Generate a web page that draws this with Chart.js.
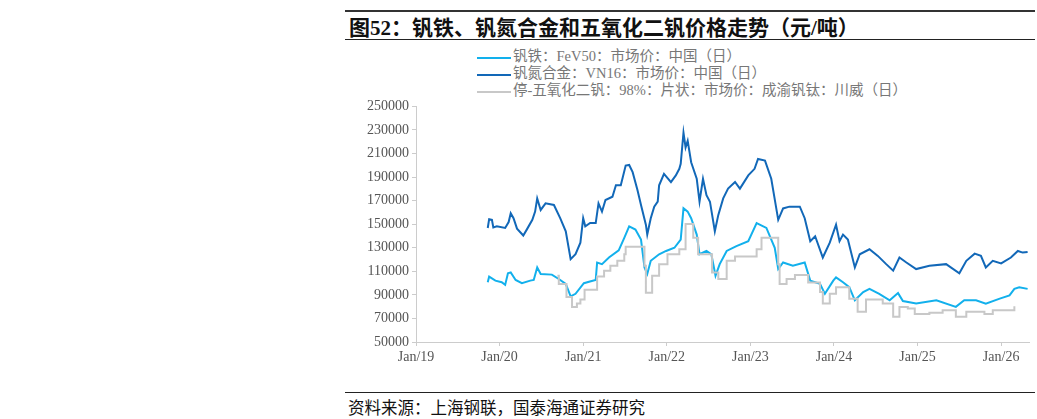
<!DOCTYPE html>
<html><head><meta charset="utf-8">
<script src="https://cdn.jsdelivr.net/npm/chart.js@4"></script>
<style>
body{margin:0;width:1037px;height:419px;position:relative;background:#fff;font-family:"Liberation Serif","Noto Sans CJK SC",serif;}
.topline{position:absolute;left:345px;top:10px;width:690px;height:2px;background:#333;}
.title{position:absolute;left:349px;top:11px;font-size:21px;font-weight:bold;color:#111;font-family:"Liberation Serif","Noto Sans CJK SC",serif;}
.uline{position:absolute;left:345px;top:39px;width:690px;height:1px;background:#222;}
.legend{position:absolute;left:477px;top:48px;font-size:14.5px;color:#777;line-height:17px;}
.legend span.k{display:inline-block;width:34px;height:2px;vertical-align:middle;margin-right:2px;}
.bline{position:absolute;left:345px;top:392px;width:690px;height:1px;background:#222;}
.src{position:absolute;left:348px;top:395px;font-size:16.5px;color:#111;}
#wrap{position:absolute;left:345px;top:95px;width:690px;height:290px;}
</style></head><body>
<div class="topline"></div>
<div class="title">图52：钒铁、钒氮合金和五氧化二钒价格走势（元/吨）</div>
<div class="uline"></div>
<div class="legend">
<div><span class="k" style="background:#12b0ec"></span>钒铁：FeV50：市场价：中国（日）</div>
<div><span class="k" style="background:#1268b8"></span>钒氮合金：VN16：市场价：中国（日）</div>
<div><span class="k" style="background:#c8c8c8"></span>停-五氧化二钒：98%：片状：市场价：成渝钒钛：川威（日）</div>
</div>
<div id="wrap"><canvas id="c"></canvas></div>
<div class="bline"></div>
<div class="src">资料来源：上海钢联，国泰海通证券研究</div>
<script>
// x = months since Jan 2019
const vnMonths = [10.3,10.5,10.9,11.1,11.6,12.8,13.3,13.6,14.0,14.5,15.4,15.9,16.7,17.1,17.4,17.9,18.6,19.8,20.7,21.5,22.2,22.9,23.6,24.0,24.3,25.0,25.8,26.2,26.7,27.2,28.2,28.7,29.4,30.1,30.6,31.1,31.8,32.3,33.0,33.2,33.7,34.2,34.7,34.9,35.6,36.6,37.3,37.8,38.0,38.4,38.7,39.0,39.5,40.3,40.7,41.2,41.7,42.2,42.9,43.4,44.1,44.8,45.8,46.5,47.7,48.6,49.1,50.1,51.0,52.0,52.7,53.6,55.1,55.8,56.6,57.3,58.4,59.4,60.3,60.8,61.3,62.0,63.0,63.7,65.1,66.3,67.5,68.5,69.4,70.4,71.8,73.7,76.1,78.0,79.0,80.2,81.1,81.8,82.8,84.0,85.4,86.4,87.1,87.8];
const vnValues = [146800,154300,153700,147300,148200,146800,151800,159300,155100,146200,140400,145400,153700,160700,171900,162100,167700,166300,155100,144000,120300,124500,134300,155100,148200,151000,151000,167700,160700,170500,173300,183000,183000,199800,200300,194200,178800,166300,149600,141200,155100,164900,169100,183000,192800,185800,191400,197000,201200,227700,215100,220700,202600,188600,169100,188600,174700,169100,144000,157900,171900,180200,185800,180200,191400,197000,205400,204000,188600,153700,163400,164900,164900,155100,135600,139800,121700,134300,149600,135600,141200,137000,113300,124500,128700,123100,116100,110600,121700,117500,111900,114700,116100,108300,118900,125000,123100,113300,118900,116700,121700,127300,125900,126400];
const fevMonths = [10.3,10.5,11.4,12.3,12.8,13.2,13.6,14.3,15.2,16.4,16.9,17.4,17.9,19.5,20.5,21.5,22.2,22.9,24.1,25.1,25.8,26.0,26.7,27.7,29.1,29.9,30.6,31.5,32.3,32.8,33.2,33.7,34.9,35.9,37.1,38.0,38.4,39.0,39.5,40.3,40.7,41.7,42.4,43.0,43.6,44.6,46.0,47.7,48.9,50.3,51.5,52.0,52.7,54.1,55.8,56.6,58.0,58.7,59.9,60.3,61.3,62.2,63.0,64.2,65.1,66.5,68.0,69.2,69.9,71.8,74.7,77.5,78.7,80.4,81.8,83.8,85.2,85.9,86.6,87.8];
const fevValues = [100700,105500,102100,100700,98500,108300,109100,102700,99900,102100,102700,113300,107700,107200,103500,99300,88700,90900,99900,101600,102700,117500,116100,121700,127800,138400,148200,145400,137000,113300,107700,118900,124500,127300,130000,137000,163500,160700,155100,141200,124500,127300,124500,106300,116100,127300,131400,135600,150900,146800,130000,111900,117500,114700,117500,102100,99300,90900,102100,104900,100700,96500,85400,92400,95100,90900,85400,91500,84800,82600,85400,79800,85400,85400,82600,86800,89600,95100,96500,95100];
const v2o5Months = [20.3,20.5,21.6,22.4,23.1,23.6,24.2,26.0,27.0,27.9,28.9,29.9,30.1,32.3,32.8,33.0,33.9,34.9,36.1,37.8,38.7,39.8,40.5,42.5,43.4,44.6,45.8,48.9,49.6,52.0,52.2,53.2,54.4,56.3,58.0,58.4,59.4,60.3,62.2,63.4,64.6,67.0,68.5,69.4,70.6,71.6,73.7,75.6,77.5,79.0,81.6,82.8,85.9];
const v2o5Values = [106300,99300,88200,79800,82600,86000,94300,105500,110500,114700,118900,124500,130800,130800,114700,91800,106300,116100,124500,128700,150100,138400,124500,109100,103500,118900,122500,128700,138400,116100,99300,103500,106900,100500,92400,82600,91000,96500,86800,75700,86000,82600,71500,79800,78400,73700,74800,77000,71500,75700,73700,77000,80400];
const yearLabels = ['Jan/19','Jan/20','Jan/21','Jan/22','Jan/23','Jan/24','Jan/25','Jan/26'];

const pts = (xs, ys) => xs.map((x, i) => ({ x: x, y: ys[i] }));
const font = { family: 'Liberation Serif', size: 14 };

new Chart(document.getElementById('c'), {
  type: 'line',
  data: {
    datasets: [
      { label: 'V2O5', data: pts(v2o5Months, v2o5Values), borderColor: '#c8c8c8', borderWidth: 2, stepped: true, pointRadius: 0 },
      { label: 'FeV50', data: pts(fevMonths, fevValues), borderColor: '#12b0ec', borderWidth: 2, tension: 0, pointRadius: 0 },
      { label: 'VN16', data: pts(vnMonths, vnValues), borderColor: '#1268b8', borderWidth: 2, tension: 0, pointRadius: 0 }
    ]
  },
  options: {
    responsive: true,
    maintainAspectRatio: false,
    animation: false,
    layout: { padding: { top: 8, right: 6, left: 0, bottom: 0 } },
    scales: {
      x: {
        type: 'linear',
        min: 0,
        max: 88,
        grid: { display: true, drawOnChartArea: false, tickLength: 4, color: '#ccc' },
        border: { color: '#ccc' },
        ticks: {
          stepSize: 12,
          color: '#555',
          font: font,
          maxRotation: 0,
          callback: v => yearLabels[v / 12]
        },
        afterFit: s => { s.height = 43; }
      },
      y: {
        min: 50000,
        max: 250000,
        grid: { display: true, drawOnChartArea: false, tickLength: 4, color: '#ccc' },
        border: { color: '#ccc' },
        ticks: { stepSize: 20000, color: '#555', font: font, callback: v => String(v) },
        afterFit: s => { s.width = 71; }
      }
    },
    plugins: { legend: { display: false }, tooltip: { enabled: false } }
  }
});
</script>
</body></html>
